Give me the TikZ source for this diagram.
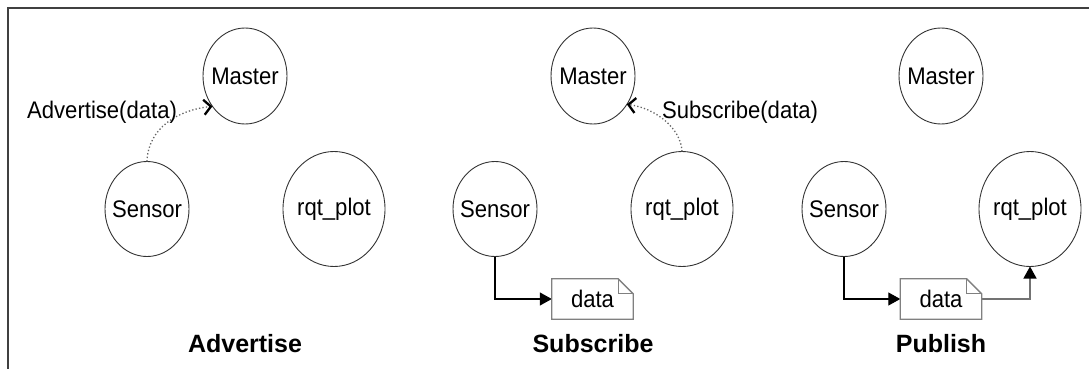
\documentclass[tikz,border=0pt]{standalone}
\usepackage{fontspec}
\setmainfont{Liberation Sans}
\newfontfamily\labelfont[FakeStretch=0.92]{Liberation Sans}
\usetikzlibrary{shapes.geometric,arrows.meta,calc}
% text that does not widen the ellipse around it
\newcommand\nowidth[1]{\makebox[0pt]{#1}}

\begin{document}
\begin{tikzpicture}[x=1pt,y=-1pt,
  lbl/.style={font=\labelfont\fontsize{24}{28}\selectfont},
  actor/.style={ellipse, draw=black!80, line width=0.9pt, inner sep=0pt, outer sep=0pt, lbl},
  master/.style={actor, minimum width=84pt, minimum height=96pt},
  sensor/.style={actor, minimum width=84pt, minimum height=95pt},
  plotter/.style={actor, minimum width=102pt, minimum height=115pt},
  msgbox/.style={rectangle, minimum width=81pt, minimum height=40pt, inner sep=0pt, lbl},
  call/.style={black!60, dash pattern=on 1.3pt off 2.2pt, line width=1.3pt,
               -{Straight Barb[length=7pt,width=15pt,line width=2.3pt,black]}},
  flow/.style={black, line width=1.1pt, -{Triangle[length=12pt,width=13pt]}},
  outflow/.style={black!55, line width=1.3pt, -{Triangle[length=12pt,width=13pt,black]}},
  callout/.style={lbl, inner sep=0pt},
  title/.style={font=\fontsize{25}{29}\selectfont\bfseries, inner sep=0pt, anchor=base},
  doc/.style={black!50, line width=1.3pt},
]
\useasboundingbox (0,0) rectangle (1089,369);

% frame
\draw[line width=2.5pt, black!75] (8,369) -- (8,8) -- (1089,8);

% ---- Advertise ----
\node[master]  (M1) at (245,76)  {\nowidth{Master}};
\node[sensor]  (S1) at (147,209) {\nowidth{Sensor}};
\node[plotter] (R1) at (334,209) {\nowidth{rqt\_plot}};
\draw[call] (S1.north) .. controls (148,128) and (178,110) .. (M1.-137);
\node[callout, anchor=base west] (A1) at (27,118) {Advertise(data)};
\node[title] (T1) at (245,352) {Advertise};

% ---- Subscribe ----
\node[master]  (M2) at (593,76)  {\nowidth{Master}};
\node[sensor]  (S2) at (495,209) {\nowidth{Sensor}};
\node[plotter] (R2) at (682,209) {\nowidth{rqt\_plot}};
\draw[call] (R2.north) .. controls (681,128) and (655,108) .. (M2.-40);
\node[callout, anchor=base west] (A2) at (662,118) {Subscribe(data)};
\node[msgbox] (D2) at (592.5,299) {data};
\draw[flow] (S2.south) |- (D2.west);
\node[title] (T2) at (593,352) {Subscribe};

% ---- Publish ----
\node[master]  (M3) at (941,76)  {\nowidth{Master}};
\node[sensor]  (S3) at (844,209) {\nowidth{Sensor}};
\node[plotter] (R3) at (1030,209) {\nowidth{rqt\_plot}};
\node[msgbox] (D3) at (941,299) {data};
\draw[flow] (S3.south) |- (D3.west);
\draw[outflow] (D3.east) -| (R3.south);
\node[title] (T3) at (941,352) {Publish};

% message documents with a folded corner
\foreach \d in {D2,D3} {
  \draw[doc] (\d.north west) -- ($(\d.north east)+(-15,0)$) -- ($(\d.north east)+(0,15)$)
             -- (\d.south east) -- (\d.south west) -- cycle;
  \draw[doc, line width=1pt] ($(\d.north east)+(-15,0)$) -- ($(\d.north east)+(-15,15)$)
             -- ($(\d.north east)+(0,15)$);
}
\end{tikzpicture}
\end{document}
